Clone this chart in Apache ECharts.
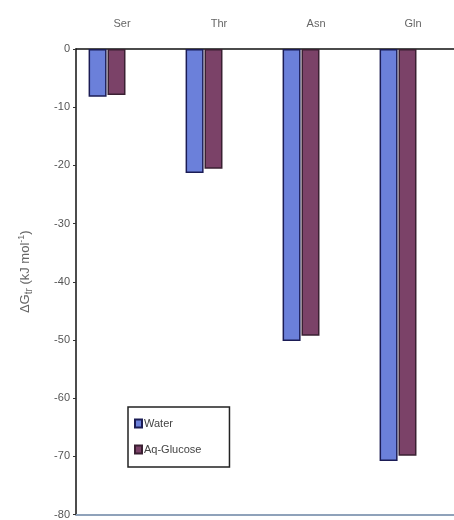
<!DOCTYPE html>
<html>
<head>
<meta charset="utf-8">
<script src="https://cdn.jsdelivr.net/npm/echarts@6/dist/echarts.min.js"></script>
<style>html,body{margin:0;padding:0;background:#fff}#c{width:454px;height:520px}</style>
</head>
<body>
<div id="c"></div>
<script>
var categories = ['Ser', 'Thr', 'Asn', 'Gln'];
var waterValues = [-8.2, -21.3, -50.2, -70.8];
var glucoseValues = [-7.9, -20.6, -49.3, -69.9];
var yTicks = [0, -10, -20, -30, -40, -50, -60, -70, -80];
var seriesNames = ['Water', 'Aq-Glucose'];

var chart = echarts.init(document.getElementById('c'));
function pairs(vals) { return vals.map(function (v, i) { return [i, v]; }); }
chart.setOption({
  animation: false,
  backgroundColor: '#fff',
  grid: { left: 76, right: 0, top: 49, bottom: 3 },
  legend: {
    data: seriesNames,
    icon: 'rect',
    orient: 'vertical',
    left: 128, top: 407,
    width: 103,
    padding: [11, 28, 12, 6],
    itemGap: 15,
    itemWidth: 7, itemHeight: 8,
    borderColor: '#222', borderWidth: 1.5,
    textStyle: { fontFamily: 'Liberation Sans', fontSize: 11, color: '#444', padding: [0, 0, 0, -3] }
  },
  xAxis: [{
    type: 'value',
    position: 'top',
    min: -0.32, max: 3.577,
    axisLine: { show: true, onZero: false, lineStyle: { color: '#111', width: 1.5 } },
    axisTick: { show: false },
    splitLine: { show: false },
    axisLabel: {
      customValues: [0, 1, 2, 3],
      margin: 20,
      padding: [0, 0, 0, 30],
      fontFamily: 'Liberation Sans', fontSize: 11, color: '#666',
      formatter: function (v) { return categories[Math.round(v)] || ''; }
    }
  }, {
    type: 'value',
    position: 'bottom',
    min: -0.32, max: 3.577,
    axisLine: { show: true, onZero: false, lineStyle: { color: '#8fa2ba', width: 2 } },
    axisTick: { show: false }, axisLabel: { show: false }, splitLine: { show: false }
  }],
  yAxis: {
    type: 'value',
    min: -80, max: 0, interval: 10,
    axisLine: { show: true, onZero: false, lineStyle: { color: '#111', width: 1.5 } },
    axisTick: { show: true, length: 3, lineStyle: { color: '#333' } },
    splitLine: { show: false },
    axisLabel: {
      fontFamily: 'Liberation Sans', fontSize: 11, color: '#555', margin: 6,
      formatter: function (v) { return yTicks.indexOf(v) >= 0 ? String(v) : ''; }
    },
    name: '{a|ΔG}{s|tr}{a| (kJ mol}{p|-1}{a|)}',
    nameLocation: 'middle',
    nameGap: 42,
    nameRotate: 90,
    nameTextStyle: {
      padding: [0, 0, 0, 20],
      rich: {
        a: { fontFamily: 'Liberation Sans', fontSize: 13, color: '#666' },
        s: { fontFamily: 'Liberation Sans', fontSize: 10, color: '#666', padding: [7, 0, 0, 0] },
        p: { fontFamily: 'Liberation Sans', fontSize: 9, color: '#666', padding: [0, 0, 7, 0] }
      }
    }
  },
  series: [{
    name: seriesNames[0],
    type: 'bar',
    xAxisIndex: 0,
    barWidth: 18,
    barGap: '5%',
    data: pairs(waterValues),
    itemStyle: { color: '#6b80da', borderColor: '#1b1c55', borderWidth: 1.5 }
  }, {
    name: seriesNames[1],
    type: 'bar',
    xAxisIndex: 0,
    barWidth: 18,
    barGap: '5%',
    data: pairs(glucoseValues),
    itemStyle: { color: '#7b4268', borderColor: '#3a2032', borderWidth: 1.5 }
  }]
});
</script>
</body>
</html>
